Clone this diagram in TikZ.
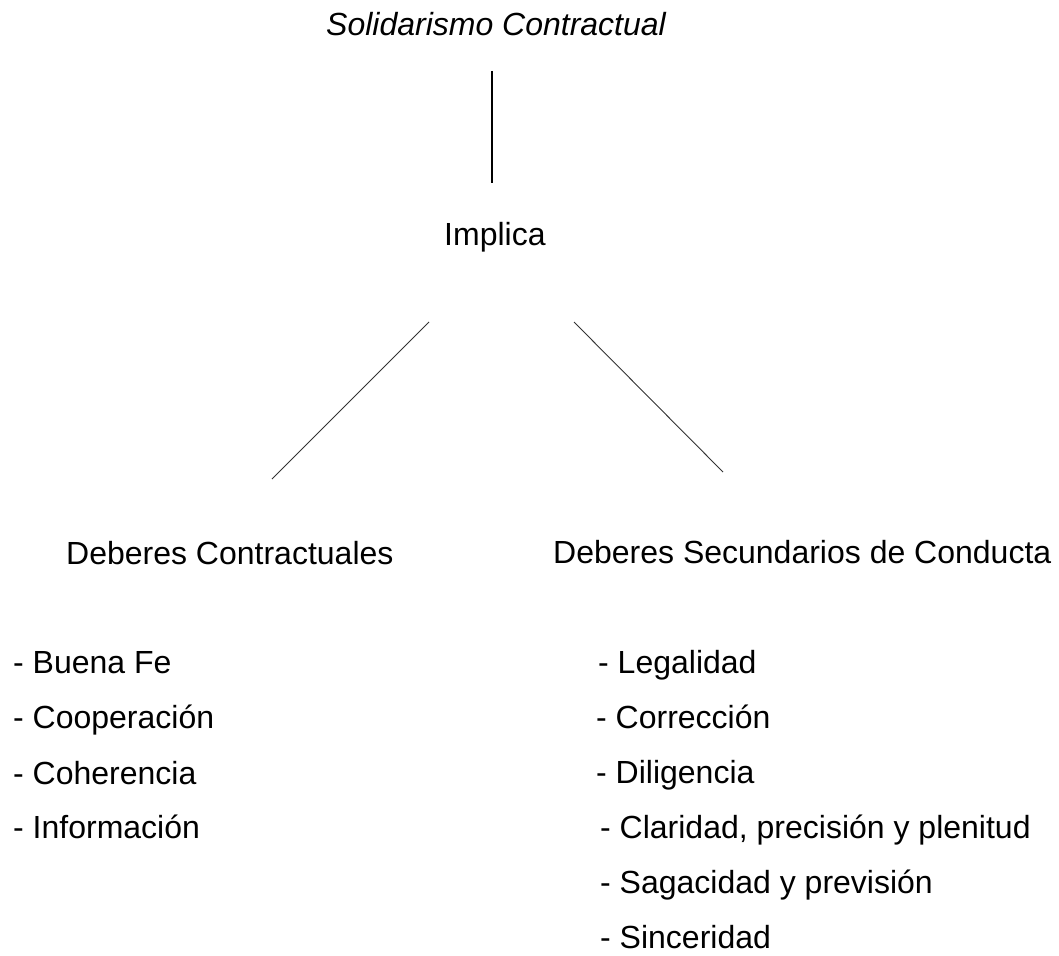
\documentclass[tikz,border=0pt]{standalone}
\usepackage{fontspec}
\setmainfont{Liberation Sans}
\tikzset{
  txt/.style={anchor=base west, inner sep=0pt, font=\fontsize{32}{38}\selectfont},
  rama/.style={line width=0.9pt, black!80},
}
\begin{document}
\begin{tikzpicture}[x=1pt, y=-1pt]
  \useasboundingbox (0,0) rectangle (1059,955);

  \node[txt] (solid) at (326,36) {\itshape Solidarismo Contractual};
  \node[txt] (implica) at (444,245) {Implica};

  \coordinate (v1) at (492,71);
  \coordinate (v2) at (492,183);
  \draw[line width=1.4pt] (v1) -- (v2);

  \coordinate (L1) at (429,322);
  \coordinate (L2) at (272,479);
  \coordinate (R1) at (574,322);
  \coordinate (R2) at (723,472);
  \draw[rama] (L1) -- (L2);
  \draw[rama] (R1) -- (R2);

  \node[txt] (contract) at (66,564) {Deberes Contractuales};
  \node[txt] (secund) at (553,563) {Deberes Secundarios de Conducta};

  % deberes contractuales
  \node[txt] (b1) at (13,673) {- Buena Fe};
  \node[txt] (b2) at (13,728) {- Cooperación};
  \node[txt] (b3) at (13,784) {- Coherencia};
  \node[txt] (b4) at (13,838) {- Información};

  % deberes secundarios
  \node[txt] (s1) at (598,673) {- Legalidad};
  \node[txt] (s2) at (596,728) {- Corrección};
  \node[txt] (s3) at (596,783) {- Diligencia};
  \node[txt] (s4) at (600,838) {- Claridad, precisión y plenitud};
  \node[txt] (s5) at (600,893) {- Sagacidad y previsión};
  \node[txt] (s6) at (600,948) {- Sinceridad};
\end{tikzpicture}
\end{document}
